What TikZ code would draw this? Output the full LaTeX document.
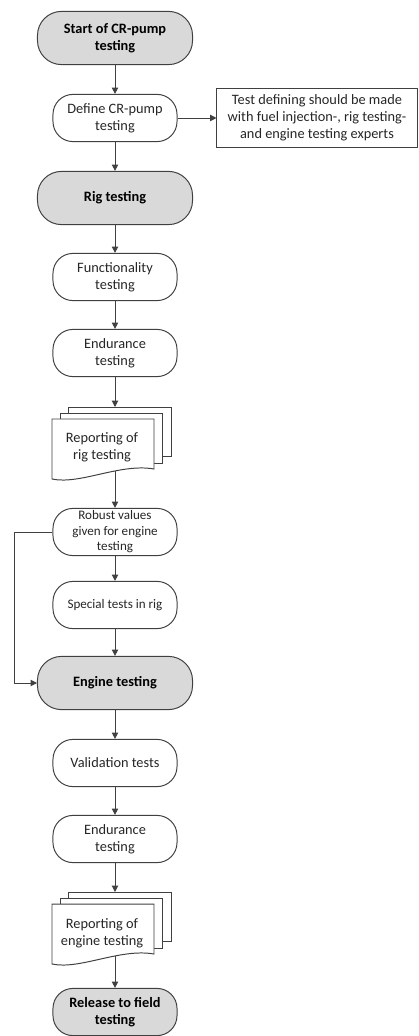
\documentclass[tikz,border=0pt]{standalone}
\usepackage{fontspec}
\setmainfont{Carlito}
\usepackage{tikz}
\usetikzlibrary{arrows.meta, calc, positioning}
\definecolor{LGray}{HTML}{404040}
\definecolor{TGray}{HTML}{D9D9D9}

\begin{document}
\begin{tikzpicture}[x=0.025cm, y=-0.025cm,
  every node/.style={font=\fontsize{10.2}{12.2}\selectfont, align=center, text=black!85},
  term/.style={draw=LGray, line width=0.7pt, rounded corners=0.5cm, minimum width=3.1cm, minimum height=1.18cm, inner sep=0pt},
  mainterm/.style={term, fill=TGray, font=\fontsize{10.2}{12.2}\selectfont\bfseries, text=black, minimum width=3.875cm, minimum height=1.33cm, rounded corners=0.6cm},
  smallterm/.style={term, font=\fontsize{9.3}{11}\selectfont},
  note/.style={draw=LGray, line width=0.7pt, minimum width=5.0cm, minimum height=1.475cm, inner sep=1pt},
  arr/.style={-{Triangle[length=4.5pt, width=4.5pt]}, LGray, line width=0.7pt},
  docstack/.pic={
    \draw[LGray, line width=0.7pt, fill=white] (16,-12) rectangle (119,37);
    \draw[LGray, line width=0.7pt, fill=white] (8,-6) rectangle (110,44);
    \draw[LGray, line width=0.7pt, fill=white] (0,0) -- (102,0) -- (102,50)
      .. controls (68,44) and (28,66) .. (0,60) -- cycle;
  }]
  \useasboundingbox (0,0) rectangle (419,1036);

  % rig part
  \node[mainterm] (start) at (115,38) {Start of CR-pump\\testing};
  \node[term] (define) at (115,118) {Define CR-pump\\testing};
  \node[note] (advice) at (317,118) {Test defining should be made\\with fuel injection-, rig testing-\\and engine testing experts};
  \node[mainterm] (rig) at (115,198) {Rig testing};
  \node[term] (func) at (115,277) {Functionality\\testing};
  \node[term] (endrig) at (115,353) {Endurance\\testing};
  \pic at (52,419) {docstack};
  \node (reprig) at (102,447) {Reporting of\\rig testing};
  \coordinate (reprig-in) at (115,407);
  \coordinate (reprig-out) at (115,471);
  \node[smallterm] (robust) at (115,532) {Robust values\\given for engine\\testing};
  \node[smallterm] (special) at (115,605) {Special tests in rig};

  % engine part
  \node[mainterm] (engine) at (115,683) {Engine testing};
  \node[term] (valid) at (115,763) {Validation tests};
  \node[term] (endeng) at (115,839) {Endurance\\testing};
  \pic at (52,904) {docstack};
  \node (repeng) at (102,933) {Reporting of\\engine testing};
  \coordinate (repeng-in) at (115,892);
  \coordinate (repeng-out) at (115,956);
  \node[term, fill=TGray, font=\fontsize{10.2}{12.2}\selectfont\bfseries, text=black] (release) at (115,1012) {Release to field\\testing};

  % connectors
  \draw[arr] (start) -- (define);
  \draw[arr] (define) -- (advice);
  \draw[arr] (define) -- (rig);
  \draw[arr] (rig) -- (func);
  \draw[arr] (func) -- (endrig);
  \draw[arr] (endrig) -- (reprig-in);
  \draw[arr] (reprig-out) -- (robust);
  \draw[arr] (robust) -- (special);
  \draw[arr] (special) -- (engine);
  \draw[arr] (robust.west) -- ++(-38,0) |- (engine.west);
  \draw[arr] (engine) -- (valid);
  \draw[arr] (valid) -- (endeng);
  \draw[arr] (endeng) -- (repeng-in);
  \draw[arr] (repeng-out) -- (release);
\end{tikzpicture}
\end{document}
